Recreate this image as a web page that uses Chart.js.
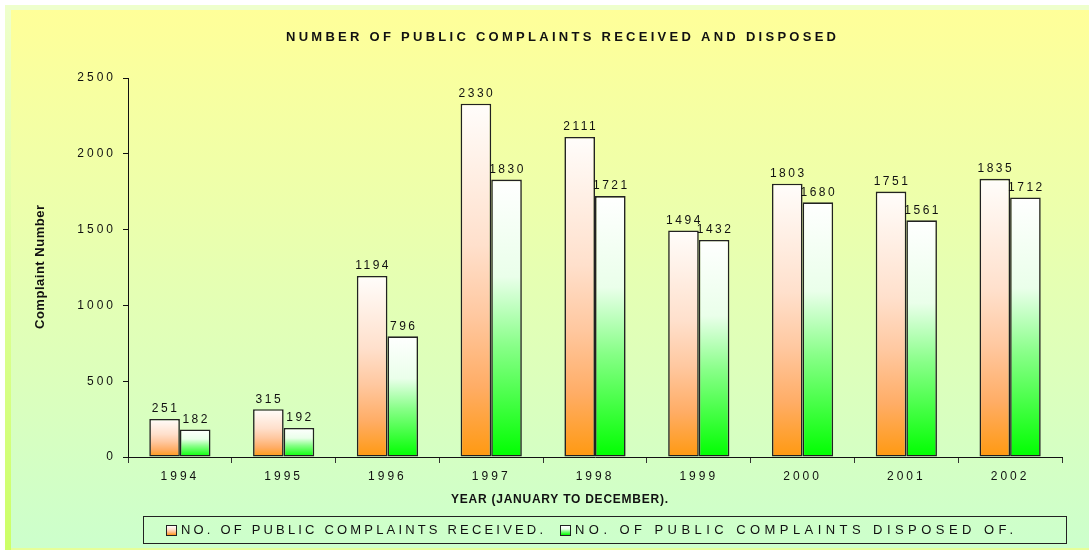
<!DOCTYPE html>
<html>
<head>
<meta charset="utf-8">
<script src="https://cdn.jsdelivr.net/npm/chart.js@4.4.1/dist/chart.umd.min.js"></script>
<style>
  html, body { margin: 0; padding: 0; background: #fff; }
  #wrap { width: 1089px; height: 550px; }
</style>
</head>
<body>
<div id="wrap"><canvas id="grafico"></canvas></div>
<script>
const anos = ['1994', '1995', '1996', '1997', '1998', '1999', '2000', '2001', '2002'];
const recebidas = [251, 315, 1194, 2330, 2111, 1494, 1803, 1751, 1835];
const resolvidas = [182, 192, 796, 1830, 1721, 1432, 1680, 1561, 1712];
const yTicks = [0, 500, 1000, 1500, 2000, 2500];

const titulo = 'NUMBER OF PUBLIC COMPLAINTS RECEIVED AND DISPOSED';
const tituloX = 'YEAR (JANUARY TO DECEMBER).';
const tituloY = 'Complaint Number';
const legendas = ['NO. OF PUBLIC COMPLAINTS RECEIVED.', 'NO. OF PUBLIC COMPLAINTS DISPOSED OF.'];

const FONTE = 'Arial, "Liberation Sans", sans-serif';
const gradLaranja = [[0, '#fffdfb'], [0.4, '#ffe0cc'], [0.6, '#ffc8a0'], [0.8, '#ffad66'], [1, '#ff9910']];
const gradVerde = [[0, '#ffffff'], [0.35, '#eaffea'], [0.6, '#88ff88'], [0.8, '#44ff44'], [1, '#00ff00']];

function fazGradiente(c, y0, y1, stops) {
  const g = c.createLinearGradient(0, y0, 0, y1);
  stops.forEach(function (s) { g.addColorStop(s[0], s[1]); });
  return g;
}

function preenchimento(stops) {
  return function (context) {
    const chart = context.chart;
    if (context.type !== 'data' || !chart.chartArea) return stops[stops.length - 1][1];
    const y = chart.scales.y;
    const topo = y.getPixelForValue(context.parsed.y);
    const base = y.getPixelForValue(0);
    if (!isFinite(topo) || !isFinite(base) || topo === base) return stops[stops.length - 1][1];
    return fazGradiente(chart.ctx, topo, base, stops);
  };
}

// escreve o texto esticando o espacamento ate a largura pedida
function textoLargo(c, txt, x, y, largura) {
  c.letterSpacing = '0px';
  const w = c.measureText(txt).width;
  c.letterSpacing = ((largura - w) / (txt.length - 1)) + 'px';
  c.fillText(txt, x, y);
}

const espaco = {
  id: 'espaco',
  beforeUpdate(chart) { chart.ctx.letterSpacing = '3px'; },
  beforeLayout(chart) { chart.ctx.letterSpacing = '3px'; },
  beforeDraw(chart) {
    const c = chart.ctx;
    const w = chart.width, h = chart.height;
    c.save();
    c.fillStyle = '#ffffff';
    c.fillRect(0, 0, w, h);
    c.fillStyle = '#eeffcc';
    c.fillRect(5, 5, w - 5, 5);
    const lado = c.createLinearGradient(0, 10, 0, h);
    lado.addColorStop(0, '#eeffcc');
    lado.addColorStop(1, '#ccff66');
    c.fillStyle = lado;
    c.fillRect(5, 10, 6, h - 10);
    const fundo = c.createLinearGradient(0, 10, 0, 548);
    fundo.addColorStop(0, '#ffff99');
    fundo.addColorStop(1, '#ccffcc');
    c.fillStyle = fundo;
    c.fillRect(11, 10, w - 11, 538);
    c.fillStyle = '#e6ff99';
    c.fillRect(11, 548, w - 11, 2);
    c.restore();
    c.letterSpacing = '3px';
  },
  afterDatasetsDraw(chart) {
    const c = chart.ctx;
    c.save();
    c.font = '12px ' + FONTE;
    c.letterSpacing = '2.5px';
    c.fillStyle = '#111';
    c.textAlign = 'center';
    c.textBaseline = 'bottom';
    chart.data.datasets.forEach(function (ds, i) {
      chart.getDatasetMeta(i).data.forEach(function (el, j) {
        c.fillText(String(ds.data[j]), el.x + 1, el.y - 4);
      });
    });
    c.restore();
  },
  afterDraw(chart) {
    const c = chart.ctx;
    c.save();
    c.fillStyle = '#111';
    c.textBaseline = 'middle';
    c.textAlign = 'left';

    c.font = 'bold 13px ' + FONTE;
    textoLargo(c, titulo, 286, 37, 550);

    c.font = 'bold 12px ' + FONTE;
    textoLargo(c, tituloX, 451, 500, 217);

    c.save();
    c.translate(40, 267);
    c.rotate(-Math.PI / 2);
    c.textAlign = 'left';
    c.font = 'bold 13px ' + FONTE;
    textoLargo(c, tituloY, -62, 0, 124);
    c.restore();

    // legenda
    c.strokeStyle = '#222';
    c.lineWidth = 1;
    c.strokeRect(143.5, 516.5, 923, 27);
    c.font = '13px ' + FONTE;
    const itens = [
      { x: 166, stops: gradLaranja, texto: legendas[0], larg: 362 },
      { x: 560, stops: gradVerde, texto: legendas[1], larg: 438 }
    ];
    itens.forEach(function (it) {
      c.fillStyle = fazGradiente(c, 526, 535, it.stops);
      c.fillRect(it.x + 0.5, 525.5, 10, 10);
      c.strokeRect(it.x + 0.5, 525.5, 10, 10);
      c.fillStyle = '#111';
      textoLargo(c, it.texto, it.x + 15, 530.5, it.larg);
    });
    c.restore();
  }
};

new Chart(document.getElementById('grafico'), {
  type: 'bar',
  data: {
    labels: anos,
    datasets: [{
      label: legendas[0],
      data: recebidas,
      backgroundColor: preenchimento(gradLaranja),
      borderColor: '#222',
      borderWidth: 1.6,
      borderSkipped: false
    }, {
      label: legendas[1],
      data: resolvidas,
      backgroundColor: preenchimento(gradVerde),
      borderColor: '#222',
      borderWidth: 1.6,
      borderSkipped: false
    }]
  },
  options: {
    responsive: true,
    maintainAspectRatio: false,
    animation: false,
    datasets: { bar: { barPercentage: 1, categoryPercentage: 0.59 } },
    layout: { padding: { top: 78, right: 27, bottom: 53, left: 0 } },
    plugins: {
      legend: { display: false },
      title: { display: false },
      tooltip: { enabled: false }
    },
    scales: {
      x: {
        afterFit(s) { s.height = 40; },
        border: { display: true, color: '#111', width: 1 },
        grid: { display: true, drawOnChartArea: false, tickLength: 6, color: '#333', offset: true },
        ticks: { color: '#111', font: { family: FONTE, size: 12 }, padding: 6 }
      },
      y: {
        min: 0,
        max: 2500,
        afterFit(s) { s.width = 128; },
        afterBuildTicks(s) { s.ticks = yTicks.map(function (v) { return { value: v }; }); },
        border: { display: true, color: '#111', width: 1 },
        grid: { display: true, drawOnChartArea: false, tickLength: 5, color: '#111' },
        ticks: {
          color: '#111',
          font: { family: FONTE, size: 12 },
          padding: 7,
          callback: function (v) { return String(v); }
        }
      }
    }
  },
  plugins: [espaco]
});
</script>
</body>
</html>
